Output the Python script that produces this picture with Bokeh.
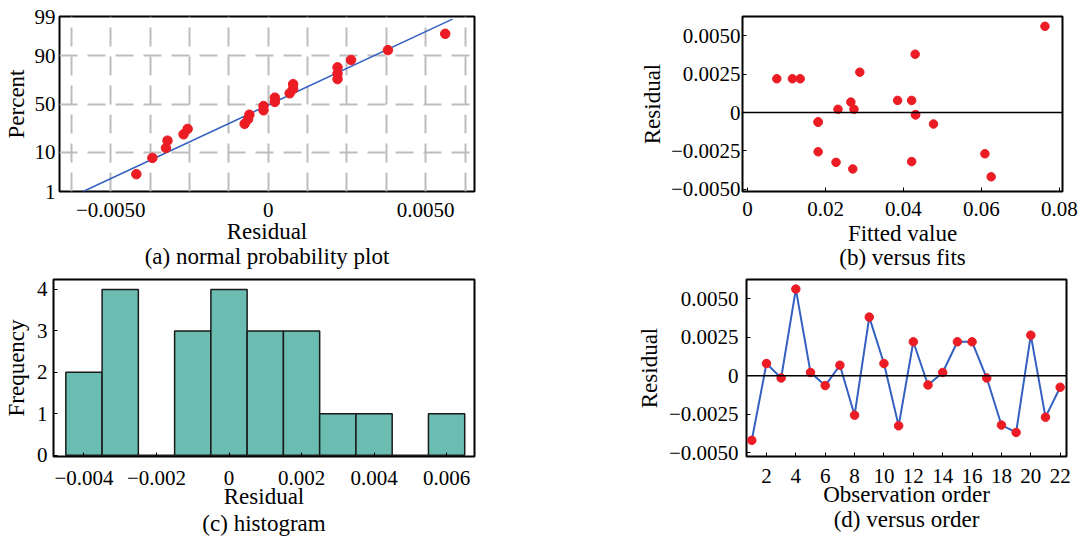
import math
from statistics import NormalDist
import numpy as np
from bokeh.plotting import figure
from bokeh.layouts import column, row
from bokeh.models import (FixedTicker, CustomJSTickFormatter, Range1d, Span,
                          Title, ColumnDataSource)
from bokeh.embed import file_html
from bokeh.resources import INLINE

# ---------------- data ----------------
order = list(range(1, 23))
residual = [-0.00419, 0.00079, -0.00015, 0.00562, 0.00021, -0.00064, 0.00068,
            -0.00256, 0.00380, 0.00079, -0.00325, 0.00220, -0.00060, 0.00021,
            0.00220, 0.00220, -0.00015, -0.00320, -0.00368, 0.00263, -0.00269,
            -0.00075]
fitted = [0.0625, 0.0385, 0.0431, 0.0763, 0.0232, 0.0181, 0.0265, 0.0181,
          0.0430, 0.0421, 0.0227, 0.0075, 0.0181, 0.0273, 0.0115, 0.0135,
          0.0431, 0.0421, 0.0270, 0.0288, 0.0609, 0.0477]
npp_percent = [3.1, 7.6, 12.1, 16.5, 21.0, 25.4, 29.9, 34.4, 38.8, 43.3, 47.8,
               52.2, 56.7, 61.2, 65.6, 70.1, 74.6, 79.0, 83.5, 87.9, 92.4, 96.9]
fit_line_residual = [-0.00588, 0.00585]
fit_line_percent = [1.0, 98.8]

hist_bin_centers = [-0.004, -0.003, -0.002, -0.001, 0.0, 0.001, 0.002, 0.003,
                    0.004, 0.005, 0.006]
hist_counts = [2, 4, 0, 3, 4, 3, 3, 1, 1, 0, 1]
hist_bin_width = 0.001

# tick labels
a_x_ticks = [-0.005, 0.0, 0.005]
a_x_labels = ["\u22120.0050", "0", "0.0050"]
a_y_percent = [1, 10, 50, 90, 99]
a_y_labels = ["1", "10", "50", "90", "99"]
res_ticks = [-0.005, -0.0025, 0.0, 0.0025, 0.005]
res_labels = ["\u22120.0050", "\u22120.0025", "0", "0.0025", "0.0050"]
b_x_ticks = [0.0, 0.02, 0.04, 0.06, 0.08]
b_x_labels = ["0", "0.02", "0.04", "0.06", "0.08"]
c_x_ticks = [-0.004, -0.002, 0.0, 0.002, 0.004, 0.006]
c_x_labels = ["\u22120.004", "\u22120.002", "0", "0.002", "0.004", "0.006"]
c_y_ticks = [0, 1, 2, 3, 4]
c_y_labels = ["0", "1", "2", "3", "4"]
d_x_ticks = [2, 4, 6, 8, 10, 12, 14, 16, 18, 20, 22]
d_x_labels = [str(t) for t in d_x_ticks]

# ---------------- style ----------------
FONT = "Liberation Serif"
TICK_SIZE = "21px"
LABEL_SIZE = "23px"
RED = "#ec1c24"
BLUE = "#3461c1"
TEAL = "#6bbdb2"

nd = NormalDist()


def z(p):
    return nd.inv_cdf(p / 100.0)


def fmt(tvals, tlabels):
    return CustomJSTickFormatter(args=dict(tv=list(tvals), tl=list(tlabels)), code="""
        for (let i = 0; i < tv.length; i++) {
            if (Math.abs(tv[i] - tick) < 1e-9) return tl[i];
        }
        return "";
    """)


def make_fig(w, h, l, r, t, b, xr, yr):
    p = figure(width=w, height=h, x_range=Range1d(*xr), y_range=Range1d(*yr),
               output_backend="svg", toolbar_location=None, title=None,
               min_border_left=l, min_border_right=r, min_border_top=t,
               min_border_bottom=b)
    p.outline_line_color = "black"
    p.outline_line_width = 2
    p.outline_line_alpha = 1.0
    p.background_fill_color = "white"
    p.border_fill_color = "white"
    p.grid.grid_line_color = None
    for ax in p.axis:
        ax.axis_line_color = None
        ax.major_label_text_font = FONT
        ax.major_label_text_font_size = TICK_SIZE
        ax.major_label_text_color = "black"
        ax.axis_label_text_font = FONT
        ax.axis_label_text_font_size = LABEL_SIZE
        ax.axis_label_text_font_style = "normal"
        ax.axis_label_text_color = "black"
        ax.minor_tick_line_color = None
        ax.major_tick_in = 4
        ax.major_tick_out = 0
        ax.major_tick_line_color = "black"
        ax.major_tick_line_width = 1
    return p


def axes_text(p, xlabel, ylabel, xs1, xs2, ys1, ys2):
    p.xaxis.axis_label = xlabel
    p.xaxis.major_label_standoff = xs1
    p.xaxis.axis_label_standoff = xs2
    p.yaxis.axis_label = ylabel
    p.yaxis.major_label_standoff = ys1
    p.yaxis.axis_label_standoff = ys2


def subtitle(p, text, standoff):
    p.add_layout(Title(text=text, align="center", text_font=FONT,
                       text_font_size=LABEL_SIZE, text_font_style="normal",
                       text_color="black", standoff=standoff), "below")


# ---------------- (a) normal probability plot ----------------
pa = make_fig(528, 276, 54, 54, 16, 85, (-0.00663, 0.00655), (z(1), z(99)))
pa.xaxis.ticker = FixedTicker(ticks=a_x_ticks)
pa.xaxis.formatter = fmt(a_x_ticks, a_x_labels)
a_y_z = [z(v) for v in a_y_percent]
pa.yaxis.ticker = FixedTicker(ticks=a_y_z)
pa.yaxis.formatter = fmt(a_y_z, a_y_labels)
pa.xaxis.major_tick_line_color = None
pa.yaxis.major_tick_line_color = None
axes_text(pa, "Residual", "Percent", 11, -1, 4, 3)
pa.xgrid.ticker = FixedTicker(ticks=list(np.arange(-6.25, 6.3, 1.25) / 1000.0))
pa.xgrid.grid_line_color = "#bdbdbd"
pa.xgrid.grid_line_width = 2
pa.xgrid.grid_line_dash = "19 10"
pa.ygrid.grid_line_color = "#bdbdbd"
pa.ygrid.grid_line_width = 2
pa.ygrid.grid_line_dash = "18 10"
pa.line(x=fit_line_residual, y=[z(v) for v in fit_line_percent],
        line_color=BLUE, line_width=1.6)
sa = ColumnDataSource(dict(x=sorted(residual), y=[z(v) for v in npp_percent]))
pa.scatter("x", "y", source=sa, size=9.5, fill_color=RED, line_color=RED)
subtitle(pa, "(a) normal probability plot", -10)

# ---------------- (b) versus fits ----------------
pb = make_fig(556, 276, 214, 22, 15, 80, (-0.0013, 0.0808), (-0.00515, 0.00626))
pb.xaxis.ticker = FixedTicker(ticks=b_x_ticks)
pb.xaxis.formatter = fmt(b_x_ticks, b_x_labels)
pb.yaxis.ticker = FixedTicker(ticks=res_ticks)
pb.yaxis.formatter = fmt(res_ticks, res_labels)
axes_text(pb, "Fitted value", "Residual", 10, 2, 2, 3)
pb.add_layout(Span(location=0, dimension="width", line_color="black", line_width=1.5))
pb.scatter(x=fitted, y=residual, size=8.5, fill_color=RED, line_color=RED)
subtitle(pb, "(b) versus fits", -12)

# ---------------- (c) histogram ----------------
pc = make_fig(528, 260, 48, 54, 3, 80, (-0.00484, 0.00677), (-0.03, 4.24))
pc.xaxis.ticker = FixedTicker(ticks=c_x_ticks)
pc.xaxis.formatter = fmt(c_x_ticks, c_x_labels)
pc.yaxis.ticker = FixedTicker(ticks=c_y_ticks)
pc.yaxis.formatter = fmt(c_y_ticks, c_y_labels)
axes_text(pc, "Residual", "Frequency", 14, -4, 6, 5)
pc.vbar(x=hist_bin_centers, width=hist_bin_width, top=hist_counts, bottom=0,
        fill_color=TEAL, line_color="#1a1a1a", line_width=1.5)
subtitle(pc, "(c) histogram", -6)

# ---------------- (d) versus order ----------------
pd_ = make_fig(556, 260, 218, 18, 3, 78, (0.64, 22.43), (-0.00524, 0.00624))
pd_.xaxis.ticker = FixedTicker(ticks=d_x_ticks)
pd_.xaxis.formatter = fmt(d_x_ticks, d_x_labels)
pd_.yaxis.ticker = FixedTicker(ticks=res_ticks)
pd_.yaxis.formatter = fmt(res_ticks, res_labels)
axes_text(pd_, "Observation order", "Residual", 12, -4, 8, 4)
pd_.add_layout(Span(location=0, dimension="width", line_color="black", line_width=1.5))
pd_.line(x=order, y=residual, line_color=BLUE, line_width=2)
pd_.scatter(x=order, y=residual, size=8.5, fill_color=RED, line_color=RED)
subtitle(pd_, "(d) versus order", -9)

layout = column(row(pa, pb), row(pc, pd_))
open("out.html", "w", encoding="utf-8").write(file_html(layout, INLINE))
